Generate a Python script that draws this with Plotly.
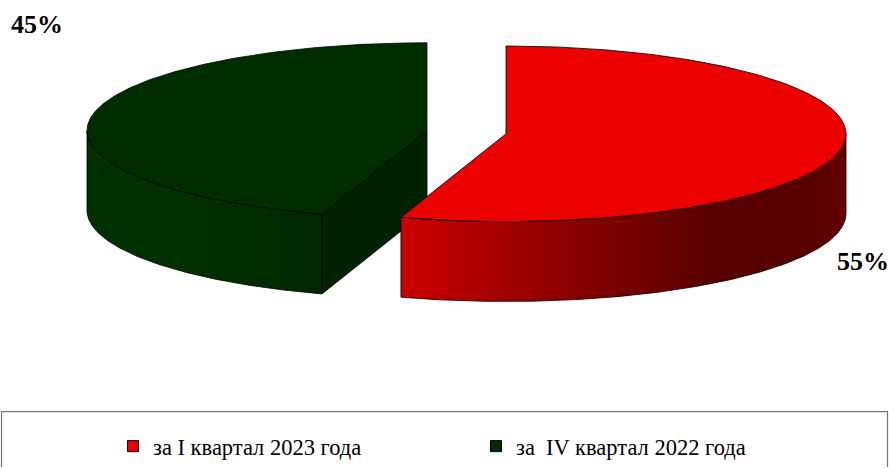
import numpy as np
import plotly.graph_objects as go

# ---- data ----
categories = ["за I квартал 2023 года", "за  IV квартал 2022 года"]
values = [55, 45]
top_colors = ["#EC0000", "#002D00"]
side_scales = [
    [[0, "#CC0000"], [0.35, "#8E0000"], [0.7, "#590000"], [0.9, "#560000"], [1, "#640000"]],
    [[0, "#003200"], [0.7, "#002D00"], [1, "#002600"]],
]
cut_colors = ["#7A0000", "#002200"]

# ---- geometry (pixel space) ----
W, H = 889, 468
CX, CY = 466.5, 132.5
RX, RY = 340, 88
DEPTH = 80
EXPLODE = 40
N = 240

total = sum(values)
fig = go.Figure()


def pt(cx, cy, a, dy=0.0):
    r = np.radians(a)
    return cx + RX * np.cos(r), cy - RY * np.sin(r) + dy


slices = []
start = 90.0
for i, v in enumerate(values):
    span = 360.0 * v / total
    a0, a1 = start, start - span
    mid = (a0 + a1) / 2
    cx = CX + EXPLODE * np.cos(np.radians(mid))
    cy = CY - EXPLODE * np.sin(np.radians(mid)) * RY / RX
    slices.append((i, a0, a1, cx, cy))
    start = a1

# draw green (second) first, then red
for i, a0, a1, cx, cy in sorted(slices, key=lambda s: -s[0]):
    line = dict(color="black", width=0.8)
    lo, hi = min(a0, a1), max(a0, a1)
    for k in range(-2, 2):
        f0, f1 = -180 + 360 * k, 0 + 360 * k
        s0, s1 = max(lo, f0), min(hi, f1)
        if s1 > s0:
            ang = np.linspace(s0, s1, N)
            xt, yt = pt(cx, cy, ang)
            xb, yb = pt(cx, cy, ang[::-1], DEPTH)
            xs = np.concatenate([xt, xb, xt[:1]])
            ys = np.concatenate([yt, yb, yt[:1]])
            fig.add_trace(go.Scatter(
                x=xs, y=ys, mode="lines", fill="toself",
                fillgradient=dict(type="horizontal", colorscale=side_scales[i]),
                line=line, hoverinfo="skip", showlegend=False))
    for a, vis in ((a0, np.cos(np.radians(a0)) < -1e-6), (a1, np.cos(np.radians(a1)) > 1e-6)):
        if vis:
            px, py = pt(cx, cy, a)
            xs = [cx, px, px, cx, cx]
            ys = [cy, py, py + DEPTH, cy + DEPTH, cy]
            fig.add_trace(go.Scatter(
                x=xs, y=ys, mode="lines", fill="toself", fillcolor=cut_colors[i],
                line=line, hoverinfo="skip", showlegend=False))
    ang = np.linspace(a0, a1, N)
    xt, yt = pt(cx, cy, ang)
    xs = np.concatenate([[cx], xt, [cx]])
    ys = np.concatenate([[cy], yt, [cy]])
    fig.add_trace(go.Scatter(
        x=xs, y=ys, mode="lines", fill="toself", fillcolor=top_colors[i],
        line=line, hoverinfo="skip", showlegend=False))

# legend entries
for i, name in enumerate(categories):
    fig.add_trace(go.Scatter(
        x=[None], y=[None], mode="markers", name=name,
        marker=dict(symbol="square", size=11, color=top_colors[i],
                    line=dict(color="black", width=1))))

# percentage labels
pct = [f"{round(v / total * 100)}%" for v in values]
label_pos = [(863, 262), (37, 25)]
for i, p in enumerate(pct):
    fig.add_annotation(x=label_pos[i][0], y=label_pos[i][1], text=p, showarrow=False,
                       xref="x", yref="y",
                       font=dict(family="Liberation Serif", size=26, color="black", weight="bold"))

# legend box
fig.add_shape(type="rect", xref="x", yref="y", x0=1.5, y0=412.5, x1=887.5, y1=475,
              line=dict(color="#767676", width=1.2), fillcolor="rgba(0,0,0,0)")

fig.update_layout(
    width=W, height=H,
    margin=dict(l=0, r=0, t=0, b=0),
    paper_bgcolor="white", plot_bgcolor="white",
    xaxis=dict(range=[0, W], visible=False, fixedrange=True),
    yaxis=dict(range=[H, 0], visible=False, fixedrange=True),
    showlegend=True,
    legend=dict(orientation="h", x=113 / W, xanchor="left", y=1 - 447 / H, yanchor="middle",
                entrywidth=318, entrywidthmode="pixels", itemwidth=30,
                font=dict(family="Liberation Serif", size=22.5, color="black"),
                bgcolor="rgba(0,0,0,0)"),
    font=dict(family="Liberation Serif"),
)

fig.write_html("out.html", config={"displayModeBar": False},
               post_script="document.body.style.margin='0';")
